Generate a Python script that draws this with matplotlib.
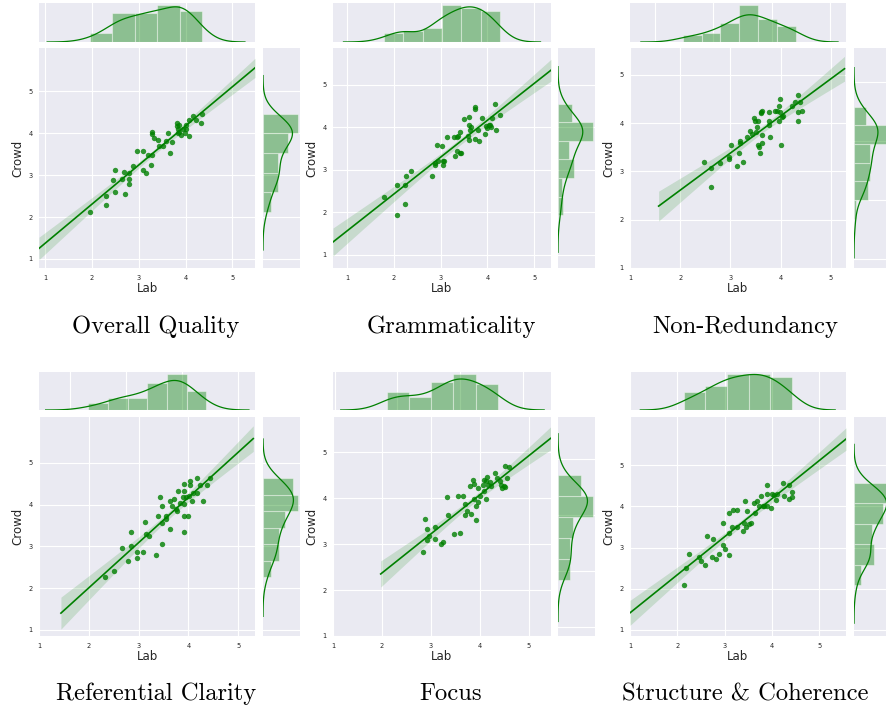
import numpy as np
import matplotlib.pyplot as plt

# ---- data: lab score (x) vs crowd score (y), one list pair per aspect ----
titles = ['Overall Quality', 'Grammaticality', 'Non-Redundancy',
          'Referential Clarity', 'Focus', 'Structure & Coherence']

quality_lab = [1.95, 2.29, 2.29, 2.45, 2.50, 2.50, 2.63, 2.68, 2.71, 2.79, 2.79, 2.79,
               2.88, 2.96, 3.08, 3.09, 3.16, 3.20, 3.26, 3.29, 3.29, 3.29, 3.33, 3.41,
               3.43, 3.51, 3.59, 3.63, 3.66, 3.71, 3.81, 3.81, 3.84, 3.87, 3.86, 3.95,
               3.99, 4.01, 4.02, 4.08, 4.08, 4.16, 4.22, 4.34, 4.36, 3.84, 3.91]
quality_crowd = [2.12, 2.50, 2.28, 2.88, 3.12, 2.59, 2.92, 3.08, 2.56, 3.04, 2.92, 2.79,
                 3.23, 3.57, 3.12, 3.57, 3.04, 3.49, 3.25, 4.02, 3.98, 3.49, 3.89, 3.83,
                 3.70, 3.70, 3.81, 4.00, 3.54, 3.78, 4.24, 4.17, 4.09, 4.20, 4.02, 4.09,
                 4.00, 4.20, 4.09, 3.93, 4.32, 4.40, 4.31, 4.24, 4.47, 4.00, 3.97]

gram_lab = [1.79, 2.06, 2.06, 2.24, 2.24, 2.27, 2.36, 2.82, 2.87, 2.89, 2.92, 2.94,
            3.05, 3.03, 3.06, 3.08, 3.14, 3.28, 3.30, 3.35, 3.36, 3.38, 3.41, 3.42,
            3.51, 3.43, 3.59, 3.60, 3.61, 3.61, 3.62, 3.66, 3.73, 3.73, 3.74, 3.80,
            3.82, 3.89, 3.94, 3.97, 3.99, 4.03, 4.05, 4.07, 4.09, 4.17, 4.18, 4.27]
gram_crowd = [2.35, 1.93, 2.63, 2.65, 2.19, 2.84, 2.98, 2.84, 3.10, 3.16, 3.59, 3.21,
              3.20, 3.55, 3.10, 3.20, 3.76, 3.76, 3.33, 3.78, 3.43, 3.80, 3.39, 3.88,
              4.19, 3.39, 3.80, 4.25, 4.04, 3.69, 3.94, 4.00, 4.47, 4.43, 3.72, 3.94,
              3.68, 4.22, 3.85, 4.02, 3.99, 4.04, 4.04, 4.00, 4.22, 4.55, 3.93, 4.29]

nonred_lab = [2.47, 2.62, 2.62, 2.80, 2.97, 2.97, 3.01, 3.13, 3.17, 3.18, 3.18, 3.25,
              3.33, 3.38, 3.42, 3.46, 3.48, 3.51, 3.55, 3.55, 3.56, 3.58, 3.60, 3.61,
              3.63, 3.63, 3.63, 3.76, 3.76, 3.76, 3.79, 3.88, 3.93, 3.96, 3.96, 3.99,
              3.99, 4.01, 4.03, 4.05, 4.23, 4.29, 4.34, 4.34, 4.34, 4.38, 4.42, 3.53]
nonred_crowd = [3.20, 3.08, 2.68, 3.17, 3.25, 3.29, 3.55, 3.11, 3.38, 3.63, 3.59, 3.20,
                3.72, 3.83, 3.77, 4.10, 4.05, 3.82, 4.05, 3.55, 3.50, 3.38, 4.22, 4.20,
                4.26, 3.59, 3.76, 4.24, 4.05, 3.96, 3.72, 4.26, 4.26, 4.35, 4.05, 4.50,
                4.22, 3.55, 4.12, 4.15, 4.35, 4.43, 4.58, 4.22, 4.05, 4.43, 4.26, 3.91]

refcl_lab = [2.32, 2.50, 2.66, 2.79, 2.84, 2.84, 2.96, 2.96, 3.08, 3.12, 3.14, 3.20,
             3.34, 3.38, 3.43, 3.46, 3.46, 3.46, 3.54, 3.54, 3.63, 3.63, 3.66, 3.71,
             3.74, 3.76, 3.79, 3.83, 3.88, 3.91, 3.91, 3.91, 3.91, 3.91, 3.96, 3.99,
             4.02, 4.03, 4.04, 4.08, 4.10, 4.18, 4.18, 4.23, 4.30, 4.38, 4.43]
refcl_crowd = [2.26, 2.42, 2.96, 2.64, 3.34, 3.00, 2.86, 2.72, 2.86, 3.58, 3.30, 3.26,
               2.80, 3.72, 4.18, 3.56, 3.98, 3.06, 3.72, 3.66, 3.42, 4.10, 3.96, 4.14,
               3.90, 3.84, 4.32, 4.04, 4.18, 4.50, 4.32, 4.02, 3.72, 3.34, 4.18, 3.72,
               4.20, 4.56, 4.48, 4.10, 4.28, 4.28, 4.64, 4.46, 4.10, 4.48, 4.64]

focus_lab = [2.84, 2.88, 2.92, 2.92, 2.97, 3.08, 3.08, 3.21, 3.26, 3.34, 3.35, 3.47,
             3.56, 3.59, 3.66, 3.71, 3.71, 3.74, 3.80, 3.83, 3.87, 3.88, 3.89, 3.92,
             3.92, 3.97, 3.97, 4.00, 4.06, 4.09, 4.09, 4.13, 4.14, 4.15, 4.18, 4.21,
             4.23, 4.31, 4.35, 4.44, 4.46, 4.50, 4.52, 4.52, 4.57, 4.60, 4.42]
focus_crowd = [2.83, 3.55, 3.33, 3.09, 3.17, 3.37, 3.12, 3.00, 3.04, 4.02, 3.63, 3.22,
               4.04, 3.25, 4.04, 3.87, 3.63, 3.73, 4.26, 3.65, 4.39, 4.32, 3.98, 3.84,
               3.52, 4.22, 3.92, 4.05, 4.29, 4.15, 4.39, 3.98, 4.37, 4.46, 4.29, 4.35,
               4.26, 4.55, 4.44, 4.29, 4.22, 4.26, 4.71, 4.24, 4.44, 4.68, 4.37]

struct_lab = [2.13, 2.18, 2.25, 2.46, 2.49, 2.58, 2.62, 2.73, 2.76, 2.81, 2.88, 2.96,
              2.97, 3.00, 3.09, 3.09, 3.10, 3.18, 3.25, 3.25, 3.38, 3.41, 3.43, 3.45,
              3.48, 3.52, 3.56, 3.61, 3.63, 3.68, 3.73, 3.76, 3.80, 3.83, 3.89, 3.89,
              3.89, 3.97, 3.99, 4.04, 4.08, 4.11, 4.23, 4.25, 4.36, 4.36, 4.42, 4.42, 3.15]
struct_crowd = [2.09, 2.50, 2.84, 2.76, 2.68, 2.58, 3.29, 2.76, 3.20, 2.72, 2.84, 3.59,
                3.06, 2.97, 2.81, 3.35, 3.83, 3.91, 3.91, 3.51, 3.41, 3.59, 4.14, 3.49,
                3.89, 3.57, 3.59, 4.09, 3.85, 4.14, 4.01, 4.26, 4.00, 4.00, 4.51, 4.30,
                4.02, 3.97, 4.30, 4.28, 4.16, 4.30, 4.58, 4.26, 4.51, 4.17, 4.34, 4.22, 3.51]

lab_scores = [quality_lab, gram_lab, nonred_lab, refcl_lab, focus_lab, struct_lab]
crowd_scores = [quality_crowd, gram_crowd, nonred_crowd, refcl_crowd, focus_crowd, struct_crowd]

# histogram bin counts seen in the marginals
nbins_x = [5, 6, 6, 6, 5, 5]
nbins_y = [5, 6, 6, 6, 5, 5]

# axis ranges (joint axes, and the marginals which kept their own ranges)
joint_xlim = [(0.864, 5.486), (0.70, 5.36), (1.0, 5.30), (1.0, 5.335), (1.0, 5.46), (1.0, 5.56)]
joint_ylim = [(0.785, 6.034), (0.686, 5.863), (1.0, 5.555), (0.856, 6.10), (1.0, 5.77), (0.854, 6.17)]
marg_xlim = [(0.864, 5.486), (0.70, 5.36), (1.57, 5.27), (1.44, 5.30), (1.976, 5.45), (1.0, 5.56)]
marg_ylim = [(0.785, 6.034), (0.686, 5.863), (1.85, 5.57), (0.856, 6.10), (1.83, 5.75), (0.854, 6.17)]

# ---- style (seaborn darkgrid look) ----
BG = '#EAEAF2'
GREEN = 'g'
plt.rcParams.update({
    'axes.facecolor': BG,
    'axes.grid': True,
    'grid.color': 'white',
    'grid.linewidth': 0.8,
    'axes.axisbelow': True,
    'xtick.major.size': 0,
    'ytick.major.size': 0,
    'xtick.color': '#262626',
    'ytick.color': '#262626',
    'font.family': 'DejaVu Sans',
})

W, H = 886, 711
fig = plt.figure(figsize=(W / 100, H / 100), dpi=100)


def rect(x0, y0, x1, y1):
    return [x0 / W, 1 - y1 / H, (x1 - x0) / W, (y1 - y0) / H]


def kde_curve(v):
    v = np.asarray(v)
    n = len(v)
    iqr = np.subtract(*np.percentile(v, [75, 25]))
    a = min(v.std(ddof=1), iqr / 1.349)
    bw = 1.059 * a * n ** -0.2
    grid = np.linspace(v.min() - 3 * bw, v.max() + 3 * bw, 100)
    z = (grid[:, None] - v[None, :]) / bw
    dens = np.exp(-0.5 * z ** 2).sum(axis=1) / (n * bw * np.sqrt(2 * np.pi))
    return grid, dens


def fit_band(x, y, xs):
    x = np.asarray(x)
    y = np.asarray(y)
    n = len(x)
    b, a = np.polyfit(x, y, 1)
    resid = y - (a + b * x)
    s = np.sqrt((resid ** 2).sum() / (n - 2))
    sxx = ((x - x.mean()) ** 2).sum()
    se = s * np.sqrt(1 / n + (xs - x.mean()) ** 2 / sxx)
    yhat = a + b * xs
    return yhat, yhat - 2.01 * se, yhat + 2.01 * se


def clean(ax):
    for sp in ax.spines.values():
        sp.set_visible(False)


col_main = [(39, 255), (333, 551), (630, 846)]
col_marg = [(263, 300), (558, 595), (854, 891)]
row_main = [(48, 268), (417, 636)]
row_marg = [(3, 42), (372, 410)]
title_x = [156, 451, 745]
title_y = [327, 694]

for i in range(6):
    r, c = divmod(i, 3)
    x = np.array(lab_scores[i])
    y = np.array(crowd_scores[i])

    ax = fig.add_axes(rect(col_main[c][0], row_main[r][0], col_main[c][1], row_main[r][1]))
    axx = fig.add_axes(rect(col_main[c][0], row_marg[r][0], col_main[c][1], row_marg[r][1]))
    axy = fig.add_axes(rect(col_marg[c][0], row_main[r][0], col_marg[c][1], row_main[r][1]))
    for a in (ax, axx, axy):
        clean(a)

    # joint: scatter + regression line with 95% band
    ax.scatter(x, y, s=15, color=GREEN, alpha=0.8, linewidths=0, zorder=2)
    xs = np.linspace(*marg_xlim[i], 100)
    yhat, lo, hi = fit_band(x, y, xs)
    ax.fill_between(xs, lo, hi, color=GREEN, alpha=0.15, linewidth=0, zorder=3)
    ax.plot(xs, yhat, color=GREEN, lw=1.2, zorder=4)
    ax.set_xlim(joint_xlim[i])
    ax.set_ylim(joint_ylim[i])
    ax.set_xticks([1, 2, 3, 4, 5])
    ax.set_yticks([1, 2, 3, 4, 5])
    ax.tick_params(axis='x', labelsize=4.8, pad=5)
    ax.tick_params(axis='y', labelsize=4.8, pad=4.5)
    ax.set_xlabel('Lab', fontsize=8.5, color='#262626', labelpad=1)
    ax.set_ylabel('Crowd', fontsize=8.5, color='#262626', labelpad=3)

    # top marginal
    axx.hist(x, bins=nbins_x[i], density=True, color=GREEN, alpha=0.4,
             edgecolor='white', linewidth=0.8)
    gx, dx = kde_curve(x)
    axx.plot(gx, dx, color=GREEN, lw=0.9)
    axx.set_xticks([1, 2, 3, 4, 5])
    axx.set_xlim(marg_xlim[i])
    axx.yaxis.grid(False)
    axx.tick_params(labelbottom=False, labelleft=False)

    # right marginal
    axy.hist(y, bins=nbins_y[i], density=True, color=GREEN, alpha=0.4,
             orientation='horizontal', edgecolor='white', linewidth=0.8)
    gy, dy = kde_curve(y)
    axy.plot(dy, gy, color=GREEN, lw=0.9)
    axy.set_yticks([1, 2, 3, 4, 5])
    axy.set_ylim(marg_ylim[i])
    axy.xaxis.grid(False)
    axy.tick_params(labelbottom=False, labelleft=False)

    fig.text(title_x[c] / W, 1 - title_y[r] / H, titles[i], family='cmr10',
             fontsize=17.7, ha='center', va='center')

fig.savefig('out.png', dpi=100, facecolor='white')
